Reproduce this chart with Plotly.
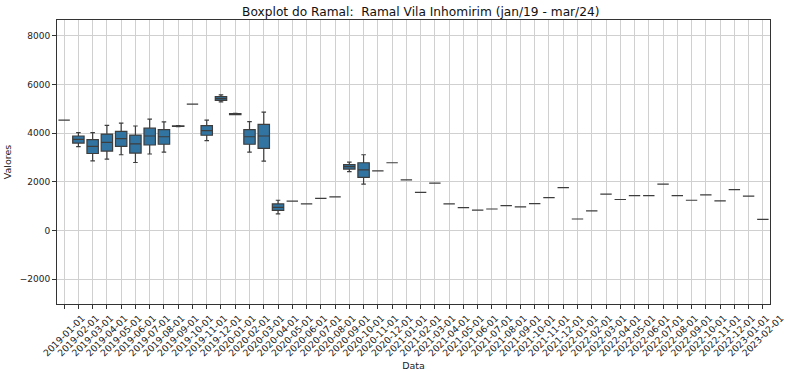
import plotly.graph_objects as go

dates = [
    "2019-01-01", "2019-02-01", "2019-03-01", "2019-04-01", "2019-05-01", "2019-06-01",
    "2019-07-01", "2019-08-01", "2019-09-01", "2019-10-01", "2019-11-01", "2019-12-01",
    "2020-01-01", "2020-02-01", "2020-03-01", "2020-04-01", "2020-05-01", "2020-06-01",
    "2020-07-01", "2020-08-01", "2020-09-01", "2020-10-01", "2020-11-01", "2020-12-01",
    "2021-01-01", "2021-02-01", "2021-03-01", "2021-04-01", "2021-05-01", "2021-06-01",
    "2021-07-01", "2021-08-01", "2021-09-01", "2021-10-01", "2021-11-01", "2021-12-01",
    "2022-01-01", "2022-02-01", "2022-03-01", "2022-04-01", "2022-05-01", "2022-06-01",
    "2022-07-01", "2022-08-01", "2022-09-01", "2022-10-01", "2022-11-01", "2022-12-01",
    "2023-01-01", "2023-02-01",
]

lower = [4540, 3450, 2870, 2940, 3120, 2800, 3150, 3230, 4270, 5200, 3700, 5290,
         4770, 3230, 2860, 690, 1210, 1100, 1330, 1390, 2430, 1910, 2460, 2790,
         2090, 1570, 1950, 1100, 950, 840, 890, 1030, 980, 1110, 1360, 1770,
         480, 810, 1500, 1280, 1440, 1440, 1910, 1440, 1250, 1470, 1220, 1690,
         1420, 460]
q1 = [4540, 3600, 3170, 3270, 3460, 3190, 3520, 3550, 4280, 5200, 3920, 5350,
      4770, 3550, 3380, 830, 1210, 1100, 1330, 1390, 2530, 2190, 2460, 2790,
      2090, 1570, 1950, 1100, 950, 840, 890, 1030, 980, 1110, 1360, 1770,
      480, 810, 1500, 1280, 1440, 1440, 1910, 1440, 1250, 1470, 1220, 1690,
      1420, 460]
median = [4540, 3750, 3460, 3630, 3780, 3570, 3890, 3860, 4290, 5200, 4110, 5430,
          4790, 3860, 3890, 960, 1210, 1100, 1330, 1390, 2630, 2500, 2460, 2790,
          2090, 1570, 1950, 1100, 950, 840, 890, 1030, 980, 1110, 1360, 1770,
          480, 810, 1500, 1280, 1440, 1440, 1910, 1440, 1250, 1470, 1220, 1690,
          1420, 460]
q3 = [4540, 3890, 3740, 3970, 4080, 3930, 4210, 4150, 4305, 5200, 4320, 5510,
      4810, 4150, 4370, 1100, 1210, 1100, 1330, 1390, 2710, 2790, 2460, 2790,
      2090, 1570, 1950, 1100, 950, 840, 890, 1030, 980, 1110, 1360, 1770,
      480, 810, 1500, 1280, 1440, 1440, 1910, 1440, 1250, 1470, 1220, 1690,
      1420, 460]
upper = [4540, 4030, 4030, 4330, 4420, 4300, 4580, 4470, 4315, 5200, 4540, 5580,
         4820, 4480, 4870, 1250, 1210, 1100, 1330, 1390, 2820, 3120, 2460, 2790,
         2090, 1570, 1950, 1100, 950, 840, 890, 1030, 980, 1110, 1360, 1770,
         480, 810, 1500, 1280, 1440, 1440, 1910, 1440, 1250, 1470, 1220, 1690,
         1420, 460]

fig = go.Figure()
fig.add_trace(go.Box(
    x=dates, q1=q1, median=median, q3=q3, lowerfence=lower, upperfence=upper,
    width=0.8, whiskerwidth=0.4, boxpoints=False,
    fillcolor="#3274a1", line=dict(color="#3d3d3d", width=1.2),
    showlegend=False, hoverinfo="skip",
))

font = "DejaVu Sans, sans-serif"
fig.update_layout(
    width=791, height=371,
    margin=dict(l=57, r=21, t=20, b=67),
    paper_bgcolor="white", plot_bgcolor="white",
    font=dict(family=font, size=9.3, color="#222"),
    title=dict(text="Boxplot do Ramal:  Ramal Vila Inhomirim (jan/19 - mar/24)",
               x=0.532, xanchor="center", y=0.968, yanchor="middle",
               font=dict(size=12.2, color="#111")),
)
fig.update_xaxes(
    type="category", range=[-0.5, len(dates) - 0.5], automargin=False,
    tickangle=-45, ticklabelshift=18, ticks="outside", ticklen=4, tickcolor="#333",
    showgrid=True, gridcolor="#d0d0d0", gridwidth=1,
    showline=True, mirror=True, linecolor="#333", linewidth=1,
    tickfont=dict(size=9.3),
    title=dict(text="Data", font=dict(size=9.5), standoff=4),
)
fig.update_yaxes(
    range=[-3014, 8657], tickvals=[-2000, 0, 2000, 4000, 6000, 8000],
    ticktext=["\u22122000", "0", "2000", "4000", "6000", "8000"], automargin=False,
    ticks="outside", ticklen=4, tickcolor="#333",
    showgrid=True, gridcolor="#d0d0d0", gridwidth=1, zeroline=False,
    showline=True, mirror=True, linecolor="#333", linewidth=1,
    tickfont=dict(size=9),
    title=dict(text="Valores", font=dict(size=9.5), standoff=6),
)

fig.write_html(
    "out.html",
    config={"displayModeBar": False, "staticPlot": True},
    post_script="document.body.style.margin='0';document.body.style.overflow='hidden';",
)
